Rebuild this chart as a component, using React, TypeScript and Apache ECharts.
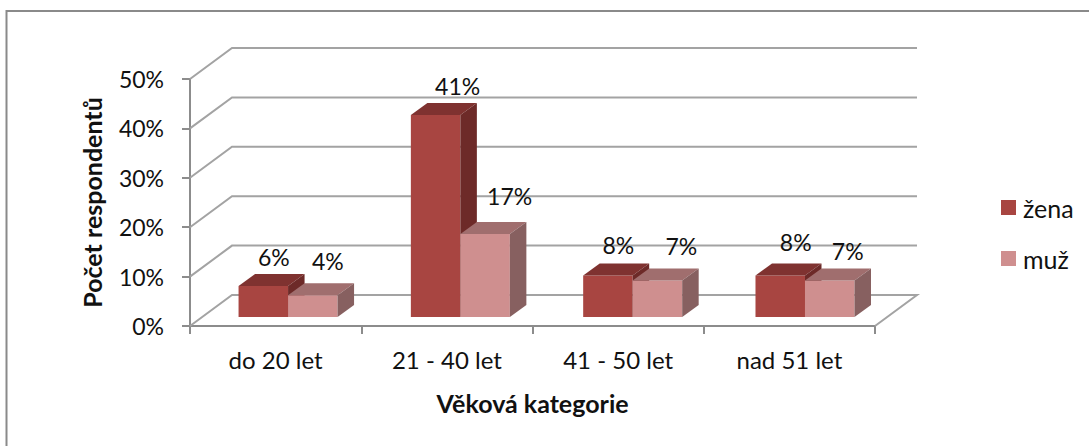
import React, { useEffect, useRef } from "react";
import * as echarts from "echarts";

const categories = ["do 20 let", "21 - 40 let", "41 - 50 let", "nad 51 let"];
const zena = [6.3, 40.9, 8.4, 8.4];
const muz = [4.4, 16.8, 7.4, 7.4];
const gridValues = [0, 10, 20, 30, 40, 50];

// hand-placed label nudges of the original (dx from bar centre, dy above the bar's back top edge)
const zenaLabelNudge = [[10.5, 17], [22, 17], [10.5, 19], [15.5, 22]];
const muzLabelNudge = [[15, 22], [24.5, 26], [24, 22], [18, 17]];

const FONT = "Lato";
const WALL_DX = 42, WALL_DY = 31;
const FLOOR_DX = 11.9, FLOOR_DY = 9, PERSP = 1.0062;
const BAR_W = 49.5, BAR_DX = 16.5, BAR_DY = 12;
const GRID_COLOR = "#a3a3a3";

function gridRender(params: any, api: any) {
  const v = api.value(1);
  const cs = params.coordSys;
  const p = api.coord([0, v]);
  const x0 = cs.x, x1 = cs.x + cs.width, y = p[1];
  const points = v === 0
    ? [[x0, y], [x0 + WALL_DX, y - WALL_DY], [x1 + WALL_DX, y - WALL_DY], [x1, y]]
    : [[x0, y], [x0 + WALL_DX, y - WALL_DY], [x1 + WALL_DX, y - WALL_DY]];
  return {
    type: "polyline",
    shape: { points },
    style: { stroke: GRID_COLOR, lineWidth: 2, fill: "none" },
    silent: true,
  };
}

function barRender(side: number, front: string, top: string, right: string, nudge: number[][]) {
  return (params: any, api: any) => {
    const idx = api.value(0);
    const v = api.value(1);
    const cs = params.coordSys;
    const c = api.coord([idx, 0]);
    const t = api.coord([idx, v]);
    const join = cs.x + (c[0] - cs.x) * PERSP + FLOOR_DX;
    const xa = side < 0 ? join - BAR_W : join;
    const xb = side < 0 ? join : join + BAR_W;
    const yb = c[1] - FLOOR_DY;
    const yt = t[1] - FLOOR_DY;
    const n = nudge[idx];
    return {
      type: "group",
      children: [
        { type: "rect", shape: { x: xa, y: yt, width: xb - xa, height: yb - yt }, style: { fill: front } },
        { type: "polygon", shape: { points: [[xa, yt], [xa + BAR_DX, yt - BAR_DY], [xb + BAR_DX, yt - BAR_DY], [xb, yt]] }, style: { fill: top } },
        { type: "polygon", shape: { points: [[xb, yb], [xb, yt], [xb + BAR_DX, yt - BAR_DY], [xb + BAR_DX, yb - BAR_DY]] }, style: { fill: right } },
        {
          type: "text",
          style: {
            x: (xa + xb) / 2 + n[0],
            y: yt - BAR_DY - n[1],
            text: Math.round(v) + "%",
            fill: "#111",
            font: `23px ${FONT}`,
            align: "center",
            verticalAlign: "middle",
          },
        },
      ],
    };
  };
}

export default function App() {
  const ref = useRef<HTMLDivElement>(null);
  useEffect(() => {
    const chart = echarts.init(ref.current!, null, { renderer: "svg" });
    const axisLine = { lineStyle: { color: "#8c8c8c", width: 2 } };
    chart.setOption({
      animation: false,
      backgroundColor: "#fff",
      textStyle: { fontFamily: FONT },
      graphic: [
        {
          type: "polyline",
          shape: { points: [[6.5, 446], [6.5, 11], [1089, 11]] },
          style: { fill: "none", stroke: "#8a8a8a", lineWidth: 2 },
          z: -1,
        },
      ],
      grid: { left: 190, top: 79, width: 685, height: 247 },
      legend: {
        data: ["žena", "muž"],
        orient: "vertical",
        left: 1001,
        top: 195,
        padding: 0,
        icon: "rect",
        itemWidth: 15,
        itemHeight: 15,
        itemGap: 26,
        selectedMode: false,
        textStyle: { fontSize: 25, color: "#111", fontFamily: FONT, padding: [0, 0, 0, 2] },
      },
      xAxis: {
        type: "category",
        data: categories,
        axisLine,
        axisTick: { show: true, length: 8, lineStyle: { color: "#8c8c8c", width: 2 } },
        axisLabel: { fontSize: 24, color: "#111", margin: 21 },
        name: "Věková kategorie",
        nameLocation: "middle",
        nameGap: 64,
        nameTextStyle: { fontSize: 25, fontWeight: "bold", color: "#111" },
      },
      yAxis: {
        type: "value",
        min: 0,
        max: 50,
        interval: 10,
        axisLine: { show: true, ...axisLine },
        axisTick: { show: true, length: 8, lineStyle: { color: "#8c8c8c", width: 2 } },
        axisLabel: { fontSize: 23, color: "#111", margin: 26, formatter: "{value}%" },
        splitLine: { show: false },
        name: "Počet respondentů",
        nameLocation: "middle",
        nameGap: 86,
        nameTextStyle: { fontSize: 25, fontWeight: "bold", color: "#111" },
      },
      series: [
        {
          type: "custom",
          name: "grid",
          silent: true,
          data: gridValues.map((v) => [0, v]),
          encode: { x: 0, y: 1 },
          renderItem: gridRender,
          z: 1,
        },
        {
          type: "custom",
          name: "žena",
          itemStyle: { color: "#A84541" },
          data: zena.map((v, i) => [i, v]),
          encode: { x: 0, y: 1 },
          renderItem: barRender(-1, "#A84541", "#7F3230", "#6D2A28", zenaLabelNudge),
          z: 2,
        },
        {
          type: "custom",
          name: "muž",
          itemStyle: { color: "#CF8F8F" },
          data: muz.map((v, i) => [i, v]),
          encode: { x: 0, y: 1 },
          renderItem: barRender(1, "#CF8F8F", "#A06E6E", "#876060", muzLabelNudge),
          z: 3,
        },
      ],
    });
    return () => chart.dispose();
  }, []);
  return (
    <div
      ref={ref}
      style={{ position: "fixed", left: 0, top: 0, width: 1089, height: 446, background: "#fff" }}
    />
  );
}
